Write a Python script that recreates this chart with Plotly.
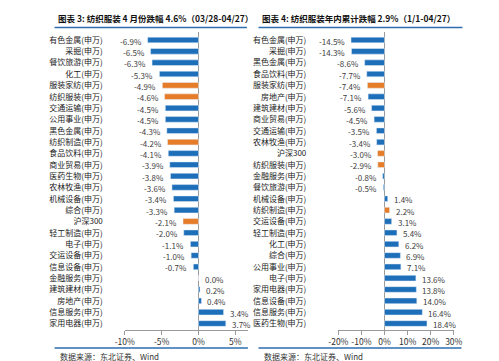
import plotly.graph_objects as go

W, H = 499, 361

left_title = "图表 3: 纺织服装 4 月份跌幅 4.6%（03/28-04/27）"
right_title = "图表 4: 纺织服装年内累计跌幅 2.9%（1/1-04/27）"
source_text = "数据来源：东北证券、Wind"

left_categories = ["有色金属(申万)", "采掘(申万)", "餐饮旅游(申万)", "化工(申万)", "服装家纺(申万)",
                   "纺织服装(申万)", "交通运输(申万)", "公用事业(申万)", "黑色金属(申万)", "纺织制造(申万)",
                   "食品饮料(申万)", "商业贸易(申万)", "医药生物(申万)", "农林牧渔(申万)", "机械设备(申万)",
                   "综合(申万)", "沪深300", "轻工制造(申万)", "电子(申万)", "交运设备(申万)",
                   "信息设备(申万)", "金融服务(申万)", "建筑建材(申万)", "房地产(申万)", "信息服务(申万)",
                   "家用电器(申万)"]
left_values = [-6.9, -6.5, -6.3, -5.3, -4.9, -4.6, -4.5, -4.5, -4.3, -4.2, -4.1, -3.9, -3.8, -3.6,
               -3.4, -3.3, -2.1, -2.0, -1.1, -1.0, -0.7, 0.0, 0.2, 0.4, 3.4, 3.7]

right_categories = ["有色金属(申万)", "采掘(申万)", "黑色金属(申万)", "食品饮料(申万)", "服装家纺(申万)",
                    "房地产(申万)", "建筑建材(申万)", "商业贸易(申万)", "交通运输(申万)", "农林牧渔(申万)",
                    "沪深300", "纺织服装(申万)", "金融服务(申万)", "餐饮旅游(申万)", "机械设备(申万)",
                    "纺织制造(申万)", "交运设备(申万)", "轻工制造(申万)", "化工(申万)", "综合(申万)",
                    "公用事业(申万)", "电子(申万)", "家用电器(申万)", "信息设备(申万)", "信息服务(申万)",
                    "医药生物(申万)"]
right_values = [-14.5, -14.3, -8.6, -7.7, -7.4, -7.1, -5.6, -4.5, -3.5, -3.4, -3.0, -2.9, -0.8, -0.5,
                1.4, 2.2, 3.1, 5.4, 6.2, 6.9, 7.1, 13.6, 13.8, 14.0, 16.4, 18.4]

highlight = {"服装家纺(申万)", "纺织服装(申万)", "纺织制造(申万)", "沪深300"}

left_ticks = [-10, -5, 0, 5]
left_ticktext = ["-10%", "-5%", "0%", "5%"]
right_ticks = [-20, -10, 0, 10, 20, 30]
right_ticktext = ["-20%", "-10%", "0%", "10%", "20%", "30%"]

BLUE = "#1e6fba"
ORANGE = "#e67c28"
CJK = "Noto Sans CJK SC"


def colors(cats):
    return [ORANGE if c in highlight else BLUE for c in cats]


def px_x(x):
    return x / W


def px_y(y):
    return 1 - y / H


fig = go.Figure()
fig.add_trace(go.Bar(
    y=left_categories, x=left_values, orientation="h",
    marker=dict(color=colors(left_categories)), width=0.5,
    xaxis="x", yaxis="y", showlegend=False, hoverinfo="x+y",
))
fig.add_trace(go.Bar(
    y=right_categories, x=right_values, orientation="h",
    marker=dict(color=colors(right_categories)), width=0.5,
    xaxis="x2", yaxis="y2", showlegend=False, hoverinfo="x+y",
))

ydom = [px_y(322), px_y(23.5)]
axis_common = dict(showline=True, linecolor="#9a9a9a", linewidth=1, ticks="outside",
                   ticklen=4, tickcolor="#9a9a9a", showgrid=False, zeroline=True,
                   zerolinecolor="#9a9a9a", zerolinewidth=1,
                   tickfont=dict(family=CJK, size=8.5, color="#333333"), tickmode="array")
fig.update_layout(
    width=W, height=H, margin=dict(l=0, r=0, t=0, b=0),
    paper_bgcolor="white", plot_bgcolor="white",
    xaxis=dict(domain=[px_x(111), px_x(239)], range=[-10, 6.7], tickvals=left_ticks,
               ticktext=left_ticktext, anchor="y", **axis_common),
    yaxis=dict(domain=ydom, autorange="reversed", anchor="x", showline=False, ticks="",
               tickfont=dict(family=CJK, size=8, color="#222222"), ticklabelstandoff=21),
    xaxis2=dict(domain=[px_x(333), px_x(453)], range=[-20, 30], tickvals=right_ticks,
                ticktext=right_ticktext, anchor="y2", **axis_common),
    yaxis2=dict(domain=ydom, autorange="reversed", anchor="x2", showline=False, ticks="",
                tickfont=dict(family=CJK, size=8, color="#222222"), ticklabelstandoff=31),
    bargap=0.5,
)

line_color = "#2e6db0"
shapes = [
    dict(type="line", xref="paper", yref="paper", x0=px_x(38), x1=px_x(238), y0=px_y(19.5), y1=px_y(19.5),
         line=dict(color=line_color, width=1.5)),
    dict(type="line", xref="paper", yref="paper", x0=px_x(250), x1=px_x(462), y0=px_y(19.5), y1=px_y(19.5),
         line=dict(color=line_color, width=1.5)),
    dict(type="line", xref="paper", yref="paper", x0=px_x(38), x1=px_x(239), y0=px_y(340), y1=px_y(340),
         line=dict(color=line_color, width=1.5)),
    dict(type="line", xref="paper", yref="paper", x0=px_x(250), x1=px_x(461), y0=px_y(340), y1=px_y(340),
         line=dict(color=line_color, width=1.5)),
]
fig.update_layout(shapes=shapes)

annots = [
    dict(text=f"<b>{left_title}</b>", x=px_x(40), y=px_y(10), xanchor="left", yanchor="middle"),
    dict(text=f"<b>{right_title}</b>", x=px_x(252), y=px_y(10), xanchor="left", yanchor="middle"),
]
for a in annots:
    a.update(xref="paper", yref="paper", showarrow=False,
             font=dict(family=CJK, size=8.5, color="#111111"))
for x0 in (42, 254):
    annots.append(dict(text=source_text, x=px_x(x0), y=px_y(348.5), xanchor="left", yanchor="middle",
                       xref="paper", yref="paper", showarrow=False,
                       font=dict(family=CJK, size=8, color="#333333")))

# data labels, positioned through the axes' own scales
for cats, vals, xr, yr in ((left_categories, left_values, "x", "y"),
                           (right_categories, right_values, "x2", "y2")):
    for c, v in zip(cats, vals):
        neg = v < 0
        annots.append(dict(
            text=f"{v:.1f}%", x=v, y=c, xref=xr, yref=yr, showarrow=False,
            xanchor="right" if neg else "left", yanchor="middle",
            xshift=-4 if neg else 4, yshift=-1,
            font=dict(family=CJK, size=8, color="#404040"),
        ))
fig.update_layout(annotations=annots)

fig.write_html("out.html")
